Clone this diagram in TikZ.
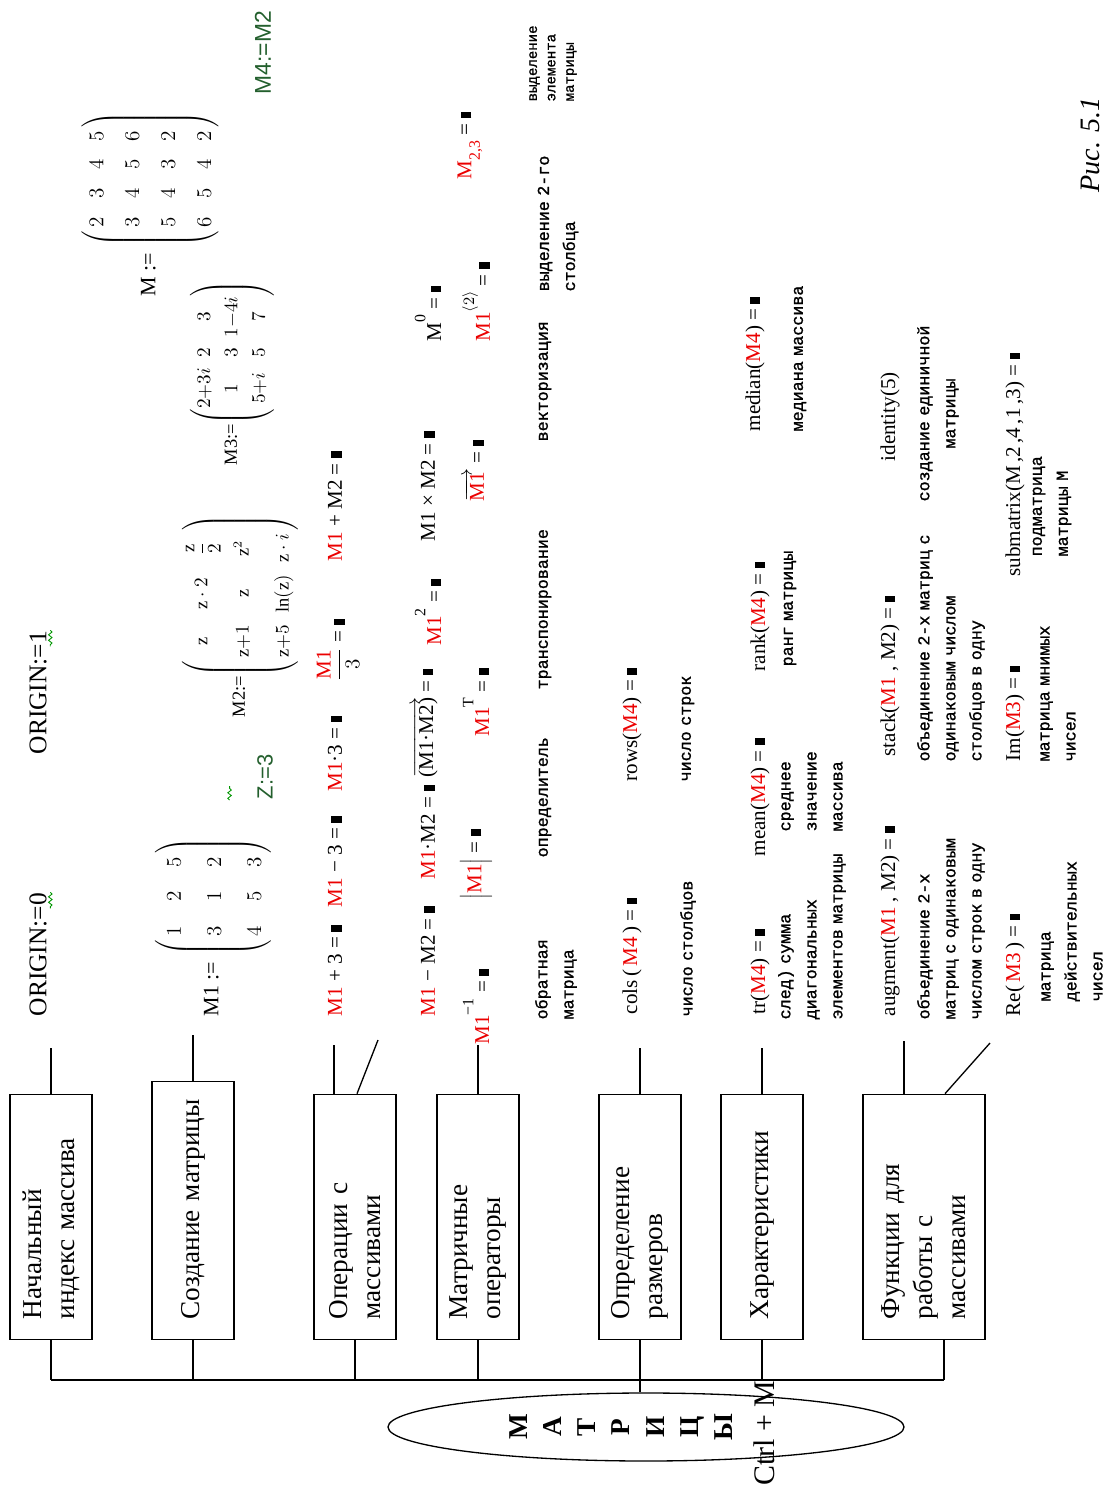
\documentclass[tikz,border=0pt]{standalone}
\usepackage{fontspec}
\setmainfont{Liberation Serif}
\newfontfamily\lblfont[WordSpace=0.55, FakeBold=1.2]{Liberation Mono}
\newfontfamily\arialfont{Liberation Sans}
\usetikzlibrary{shapes.geometric,calc,decorations.pathmorphing}
\definecolor{mcred}{RGB}{235,0,0}
\definecolor{mcgreen}{RGB}{0,150,0}
\definecolor{defgreen}{RGB}{35,95,45}
\newcommand{\mr}[1]{\textcolor{mcred}{#1}}
\newcommand{\ph}{\rule{1.3mm}{2.1mm}}
\newcommand{\sps}[1]{\raisebox{0.75em}{\small #1}}
\newcommand{\sbs}[1]{\raisebox{-0.4em}{\small #1}}

\begin{document}
\begin{tikzpicture}[
	x=0.2mm, y=-0.2mm,
	line width=0.75pt
	]
\tikzset{
	box/.style = { draw, rotate=90, anchor=west, minimum width=49mm, minimum height=16.4mm, text width=41mm, inner xsep=4mm, align=left, font=\fontsize{15.5}{18.8}\selectfont },
	expr/.style = { rotate=90, anchor=west, inner sep=0pt, font=\fontsize{12}{14}\selectfont },
	defn/.style = { expr, font=\fontsize{12.5}{14}\selectfont },
	lbl/.style = { rotate=90, anchor=west, inner sep=0pt, align=left, font=\lblfont\fontsize{9.5}{14.8}\selectfont },
	squig/.style = { mcgreen, line width=0.5pt, decorate, decoration={snake, amplitude=0.35mm, segment length=1.1mm} }
}
\useasboundingbox (0,0) rectangle (1111,1488);

	% boxes
	\node[box] (bStart) at (51,1340) {Начальный\\индекс~массива};
	\node[box, minimum width=51.6mm, text width=43.6mm] (bCreate) at (193,1340) {Создание~матрицы};
	\node[box] (bOps) at (355,1340) {Операции с\\массивами};
	\node[box] (bMatOps) at (478,1340) {Матричные\\операторы};
	\node[box] (bSize) at (640,1340) {Определение\\размеров};
	\node[box] (bChar) at (762,1340) {Характеристики};
	\node[box, minimum height=24.4mm] (bFunc) at (924,1340) {Функции для\\работы с\\массивами};

	% root
	\node[draw, ellipse, minimum width=103.2mm, minimum height=13.6mm, inner sep=0pt] (ell) at (646,1427) {};
	\node[rotate=90, align=center, inner sep=0pt, font=\bfseries\fontsize{15.5}{19.4}\selectfont] (title) at (621,1427) {М\\А\\Т\\Р\\И\\Ц\\Ы};
	\node[rotate=90, inner sep=0pt, font=\fontsize{17}{19}\selectfont] (hotkey) at (764,1433) {Ctrl + M};

	% origin and definitions
	\node[defn, font=\fontsize{14.5}{16}\selectfont] (orig0) at (38,1017) {ORIGIN:=0};
	\node[defn, font=\fontsize{14.5}{16}\selectfont] (orig1) at (38,755) {ORIGIN:=1};
	\draw[squig] ($(orig0.south east)+(3,0)$) -- ++(0,16);
	\draw[squig] ($(orig1.south east)+(3,0)$) -- ++(0,16);

	\node[defn] (defM1) at (213,1017) {M1 :=\;$\arraycolsep=7pt\def\arraystretch{1.63}\left(\begin{array}{@{\,}ccc@{\,}}1&2&5\\3&1&2\\4&5&3\end{array}\right)$};
	\node[expr, text=defgreen, font=\arialfont\fontsize{12.5}{14}\selectfont] (defZ) at (265,800) {Z:=3};
	\draw[squig] ($(defZ.north west)+(-27,0)$) -- ++(0,-14);
	\node[defn, font=\fontsize{10.5}{13}\selectfont] (defM2) at (240,718) {M2:=$\arraycolsep=3.5pt\def\arraystretch{1.75}\left(\begin{array}{@{\,}ccc@{\,}}\mathrm{z}&\mathrm{z}\cdot 2&\displaystyle\frac{\mathrm{z}}{2}\\ \mathrm{z}{+}1&\mathrm{z}&\mathrm{z}^{2}\\ \mathrm{z}{+}5&\ln(\mathrm{z})&\mathrm{z}\cdot i\end{array}\right)$};
	\node[defn, font=\fontsize{10.5}{13}\selectfont] (defM3) at (232,466) {M3:=$\arraycolsep=3pt\def\arraystretch{1.2}\left(\begin{array}{@{}ccc@{}}2{+}3i&2&3\\1&3&1{-}4i\\5{+}i&5&7\end{array}\right)$};
	\node[defn] (defM) at (150,297) {M :=\;$\arraycolsep=5.3pt\def\arraystretch{1.46}\left(\begin{array}{@{\,}cccc@{\,}}2&3&4&5\\3&4&5&6\\5&4&3&2\\6&5&4&2\end{array}\right)$};
	\node[expr, text=defgreen, font=\arialfont\fontsize{13}{15}\selectfont] (defM4) at (263,95) {M4:=M2};

	% operations
	\node[expr] (op1) at (335,1017) {\mr{M1} + 3 = \ph};
	\node[expr] (op2) at (335,908) {\mr{M1} − 3 = \ph};
	\node[expr] (op3) at (335,792) {\mr{M1}·3 = \ph};
	\node[expr] (op4) at (338,682) {$\displaystyle\frac{\mbox{\mr{M1}}}{3}$ = \ph};
	\node[expr] (op5) at (335,562) {\mr{M1} + M2 = \ph};
	\node[expr] (op6) at (428,1017) {\mr{M1} − M2 = \ph};
	\node[expr] (op7) at (428,880) {\mr{M1}·M2 = \ph};
	\node[expr] (op8) at (425,778) {$\overrightarrow{\mbox{(M1·M2)}}$ = \ph};
	\node[expr] (op9) at (428,646) {\mr{M1}\sps{2} = \ph};
	\node[expr] (op10) at (428,542) {M1 × M2 = \ph};
	\node[expr] (op11) at (428,342) {M\sps{0} = \ph};

	% matrix operators
	\node[expr] (mo1) at (476,1045) {\mr{M1}\sps{−1} = \ph};
	\node[expr] (mo2) at (476,900) {$\Big|$\mr{M1}$\Big|$ = \ph};
	\node[expr] (mo3) at (476,737) {\mr{M1}\sps{T} = \ph};
	\node[expr] (mo4) at (474,502) {$\overrightarrow{\mbox{\mr{M1}\,}}$ = \ph};
	\node[expr] (mo5) at (476,342) {\mr{M1}\sps{$\langle 2\rangle$} = \ph};
	\node[expr] (mo6) at (470,180) {\mr{M\sbs{2,3}} = \ph};
	\node[lbl] (lInv) at (556,1020) {обратная\\матрица};
	\node[lbl] (lDet) at (545,858) {определитель};
	\node[lbl] (lTr) at (545,690) {транспонирование};
	\node[lbl] (lVec) at (545,442) {векторизация};
	\node[lbl] (lCol) at (558,292) {выделение 2-го\\столбца};
	\node[lbl, font=\lblfont\fontsize{8}{10.5}\selectfont] (lElem) at (553,102) {выделение\\элемента\\матрицы};

	% sizes
	\node[expr] (sz1) at (632,1015) {cols\,(\,\mr{M4}\,) = \ph};
	\node[expr] (sz2) at (632,782) {rows(\mr{M4}) = \ph};
	\node[lbl] (lCols) at (688,1017) {число столбцов};
	\node[lbl] (lRows) at (688,782) {число строк};

	% characteristics
	\node[expr] (ch1) at (760,1015) {tr(\mr{M4}) = \ph};
	\node[expr] (ch2) at (760,857) {mean(\mr{M4}) = \ph};
	\node[expr] (ch3) at (760,672) {rank(\mr{M4}) = \ph};
	\node[expr] (ch4) at (755,432) {median(\mr{M4}) = \ph};
	\node[lbl] (lTrace) at (812,1020) {след) сумма\\диагональных\\элементов матрицы};
	\node[lbl] (lMean) at (812,832) {среднее\\значение\\массива};
	\node[lbl] (lRank) at (790,667) {ранг матрицы};
	\node[lbl] (lMed) at (800,432) {медиана массива};

	% functions
	\node[expr] (fn1) at (890,1017) {augment(\mr{M1} , M2) = \ph};
	\node[expr] (fn2) at (890,757) {stack(\mr{M1} , M2) = \ph};
	\node[expr] (fn3) at (890,462) {identity(5)};
	\node[lbl] (lAug) at (951,1020) {объединение 2-х\\матриц с одинаковым\\числом строк в одну};
	\node[lbl] (lStack) at (951,762) {объединение 2-х матриц с\\одинаковым числом\\столбцов в одну};
	\node[lbl, align=center] (lId) at (938,502) {создание единичной\\матрицы};
	\node[expr] (fn4) at (1015,1017) {Re(\,\mr{M3}\,) = \ph};
	\node[expr] (fn5) at (1015,762) {Im(\mr{M3}) = \ph};
	\node[expr] (fn6) at (1015,577) {submatrix(M\,,2\,,4\,,1\,,3) = \ph};
	\node[lbl] (lRe) at (1072,1002) {матрица\\действительных\\чисел};
	\node[lbl] (lIm) at (1058,762) {матрица мнимых\\чисел};
	\node[lbl] (lSub) at (1052,557) {подматрица\\матрицы M};

	\node[rotate=90, inner sep=0pt, font=\itshape\fontsize{16}{18}\selectfont] (caption) at (1090,145) {Рис. 5.1};

	% lines to rows
	\coordinate (tStart) at (51,1048);
	\coordinate (tCreate) at (193,1035);
	\coordinate (tOps) at (334,1045);
	\coordinate (sOps) at (378,1040);
	\coordinate (tSize) at (640,1048);
	\coordinate (tChar) at (762,1048);
	\coordinate (tFunc) at (904,1041);
	\coordinate (sFunc) at (990,1043);
	\draw (bStart.east) -- (tStart);
	\draw (bCreate.east) -- (tCreate);
	\draw (tOps |- bOps.east) -- (tOps);
	\draw ($(bOps.east)+(2,0)$) -- (sOps);
	\draw (bMatOps.east) -- (bMatOps.east |- mo1.west);
	\draw (bSize.east) -- (tSize);
	\draw (bChar.east) -- (tChar);
	\draw (tFunc |- bFunc.east) -- (tFunc);
	\draw ($(bFunc.east)+(21,0)$) -- (sFunc);

	% bus
	\coordinate (busL) at (51,1380);
	\coordinate (busR) at (944,1380);
	\draw (busL) -- (busR);
	\foreach \b in {bStart,bCreate,bOps,bMatOps,bChar}
		\draw (\b.west) -- (\b.west |- busL);
	\draw (bSize.west) -- (bSize.west |- ell.north);
	\draw ($(bFunc.west)+(20,0)$) -- (busR);
\end{tikzpicture}
\end{document}
